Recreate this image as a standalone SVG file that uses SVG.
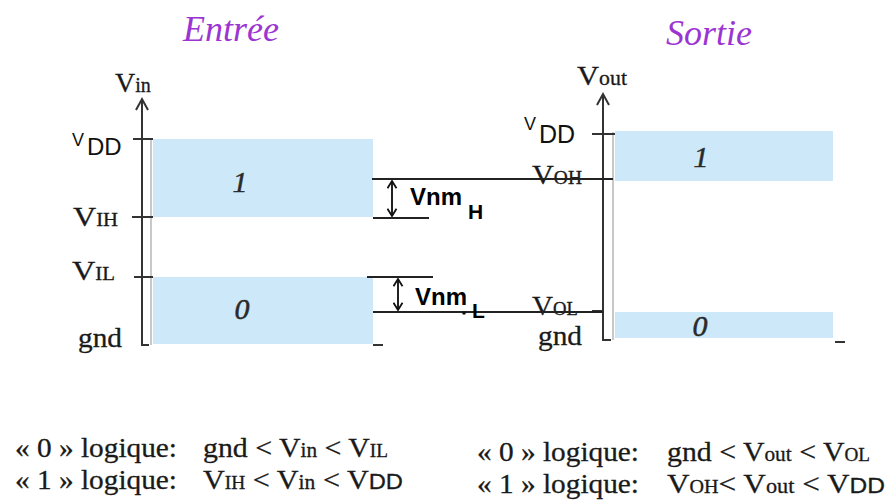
<svg xmlns="http://www.w3.org/2000/svg" width="887" height="502" viewBox="0 0 887 502">
<style>
.title{font-family:"Liberation Serif",serif;font-style:italic;font-size:36px;fill:#9b35d2}
.lab{font-family:"Liberation Serif",serif;font-size:28px;fill:#1a1a1a;stroke:#1a1a1a;stroke-width:0.3}
.sc{font-size:18px}
.sub{font-size:20px}
.sans{font-family:"Liberation Sans",Arial,sans-serif}
.dig{font-family:"Liberation Serif",serif;font-style:italic;font-size:30px;fill:#2a2a2a;stroke:#2a2a2a;stroke-width:0.5;text-anchor:middle}
.vnm{font-family:"Liberation Sans",Arial,sans-serif;font-weight:bold;font-size:24px;fill:#000}
.vnms{font-family:"Liberation Sans",Arial,sans-serif;font-weight:bold;font-size:21px;fill:#000}
.band{fill:#cde8f9}
.axis{stroke:#333;stroke-width:2;fill:none}
.tick{stroke:#333;stroke-width:2}
.ln{stroke:#222;stroke-width:2;fill:none}
.grey{stroke:#c8c8c8;stroke-width:2}
.bot{font-family:"Liberation Serif",serif;font-size:28px;fill:#1a1a1a;stroke:#1a1a1a;stroke-width:0.3}
.dd{font-family:"Liberation Sans",Arial,sans-serif;fill:#111}
</style>
<defs>
<marker id="chev" viewBox="0 0 10 12" refX="9" refY="6" markerWidth="9" markerHeight="11" markerUnits="userSpaceOnUse" orient="auto-start-reverse">
<path d="M1,1 L9,6 L1,11" fill="none" stroke="#111" stroke-width="2"/>
</marker>
</defs>

<g id="titles">
<text class="title" x="183" y="41">Entrée</text>
<text class="title" x="666" y="45">Sortie</text>
</g>

<g id="input-axis">
<rect class="band" x="153" y="139" width="220" height="78"/>
<rect class="band" x="153" y="277" width="220" height="67"/>
<line class="grey" x1="151" y1="140" x2="151" y2="345"/>
<path class="axis" d="M142,100 V345 H149"/>
<path class="axis" d="M136,110 L142,99 L148,110"/>
<line class="tick" x1="133" y1="139" x2="153" y2="139"/>
<line class="tick" x1="132" y1="217" x2="153" y2="217"/>
<line class="tick" x1="134" y1="277" x2="153" y2="277"/>
<line class="tick" x1="373" y1="345" x2="383" y2="345"/>
<text class="lab" x="115" y="92">V<tspan class="sub">in</tspan></text>
<text class="dd" x="72" y="146" font-size="18">V</text>
<text class="dd" x="87" y="155" font-size="24">DD</text>
<text class="lab" x="73" y="226" textLength="45" lengthAdjust="spacingAndGlyphs">V<tspan class="sc">IH</tspan></text>
<text class="lab" x="72" y="280" textLength="43" lengthAdjust="spacingAndGlyphs">V<tspan class="sc">IL</tspan></text>
<text class="lab" x="78" y="347" textLength="44" lengthAdjust="spacingAndGlyphs">gnd</text>
<text class="dig" x="240" y="192">1</text>
<text class="dig" x="242" y="319">0</text>
</g>

<g id="output-axis">
<rect class="band" x="615" y="131" width="218" height="50"/>
<rect class="band" x="615" y="312" width="218" height="26"/>
<line class="grey" x1="613" y1="132" x2="613" y2="340"/>
<path class="axis" d="M603,95 V340 H611"/>
<path class="axis" d="M597,105 L603,94 L609,105"/>
<line class="tick" x1="592" y1="134" x2="615" y2="134"/>
<line class="tick" x1="592" y1="311" x2="603" y2="311"/>
<line class="tick" x1="835" y1="342" x2="845" y2="342"/>
<text class="lab" x="577" y="85" textLength="50" lengthAdjust="spacingAndGlyphs">V<tspan class="sub">out</tspan></text>
<text class="dd" x="524" y="130" font-size="18">V</text>
<text class="dd" x="539" y="143" font-size="25">DD</text>
<text class="lab" x="532" y="184" textLength="50" lengthAdjust="spacingAndGlyphs">V<tspan class="sc">OH</tspan></text>
<text class="lab" x="532" y="315" textLength="46" lengthAdjust="spacingAndGlyphs">V<tspan class="sc">OL</tspan></text>
<text class="lab" x="538" y="345" textLength="44" lengthAdjust="spacingAndGlyphs">gnd</text>
<text class="dig" x="701" y="167">1</text>
<text class="dig" x="700" y="336">0</text>
</g>

<g id="connectors">
<line class="ln" x1="372" y1="179" x2="613" y2="179"/>
<line class="ln" x1="373" y1="218" x2="429" y2="218"/>
<line class="ln" x1="367" y1="277" x2="433" y2="277"/>
<line class="ln" x1="373" y1="312" x2="603" y2="312"/>
<line class="ln" x1="392" y1="181" x2="392" y2="216" marker-start="url(#chev)" marker-end="url(#chev)"/>
<line class="ln" x1="398" y1="279" x2="398" y2="310" marker-start="url(#chev)" marker-end="url(#chev)"/>
<circle cx="464" cy="313" r="1.8" fill="#111"/>
</g>

<g id="noise-margins">
<text class="vnm" x="410" y="205">Vnm</text>
<text class="vnms" x="468" y="219">H</text>
<text class="vnm" x="415" y="305">Vnm</text>
<text class="vnms" x="472" y="318">L</text>
</g>

<g id="conditions-input">
<text class="bot" x="15" y="457" textLength="162" lengthAdjust="spacingAndGlyphs">« 0 » logique:</text>
<text class="bot" x="203" y="457" textLength="185" lengthAdjust="spacingAndGlyphs">gnd &lt; V<tspan class="sub">in</tspan> &lt; V<tspan class="sc">IL</tspan></text>
<text class="bot" x="15" y="489" textLength="162" lengthAdjust="spacingAndGlyphs">« 1 » logique:</text>
<text class="bot" x="203" y="489" textLength="200" lengthAdjust="spacingAndGlyphs">V<tspan class="sc">IH</tspan> &lt; V<tspan class="sub">in</tspan> &lt; V<tspan class="sans" font-size="22">DD</tspan></text>
</g>

<g id="conditions-output">
<text class="bot" x="477" y="461" textLength="162" lengthAdjust="spacingAndGlyphs">« 0 » logique:</text>
<text class="bot" x="667" y="461" textLength="203" lengthAdjust="spacingAndGlyphs">gnd &lt; V<tspan class="sub">out</tspan> &lt; V<tspan class="sc">OL</tspan></text>
<text class="bot" x="477" y="493" textLength="162" lengthAdjust="spacingAndGlyphs">« 1 » logique:</text>
<text class="bot" x="667" y="493" textLength="218" lengthAdjust="spacingAndGlyphs">V<tspan class="sc">OH</tspan>&lt; V<tspan class="sub">out</tspan> &lt; V<tspan class="sans" font-size="22">DD</tspan></text>
</g>
</svg>
